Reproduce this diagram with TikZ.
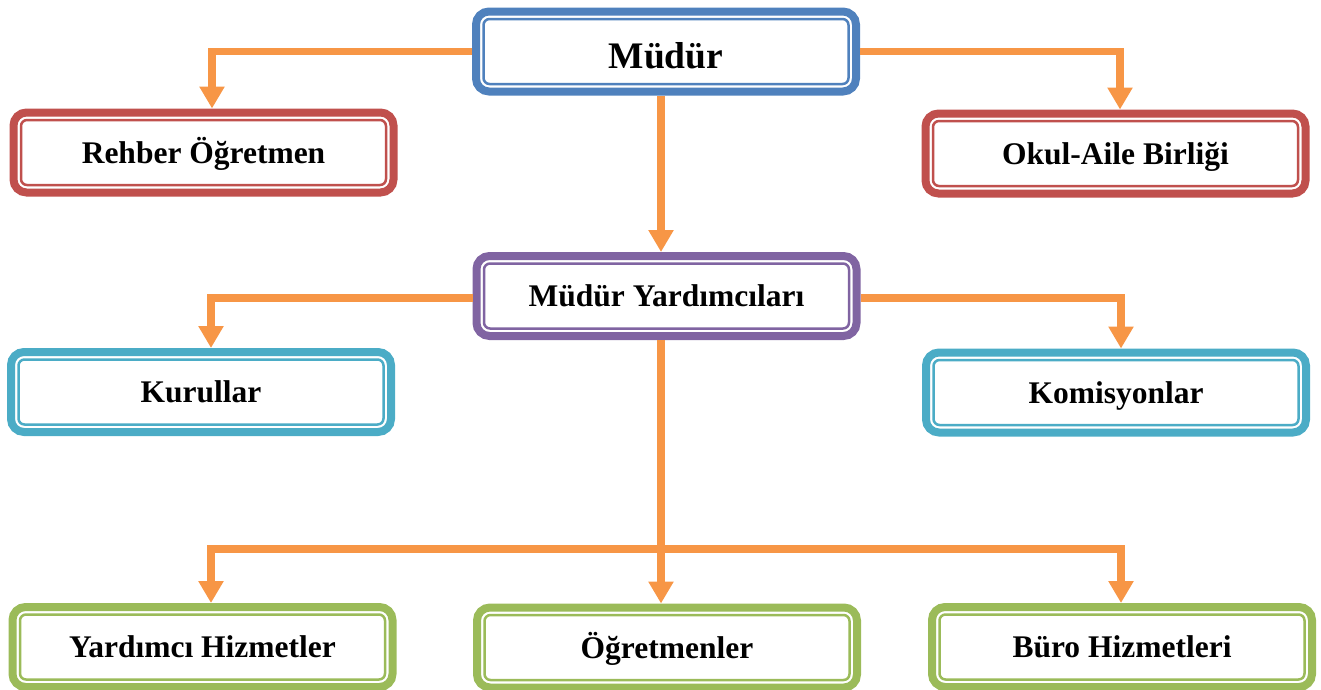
\documentclass[tikz,border=0pt]{standalone}
\usepackage{fontspec}
\setmainfont{Liberation Serif}
\usetikzlibrary{arrows.meta}
\definecolor{cblue}{HTML}{4F81BD}
\definecolor{cred}{HTML}{C0504D}
\definecolor{cpurple}{HTML}{8064A2}
\definecolor{caqua}{HTML}{4BACC6}
\definecolor{cgreen}{HTML}{9BBB59}
\definecolor{corange}{HTML}{F79646}
\tikzset{
  orgbox/.style={draw=#1, line width=8pt, rounded corners=13pt, fill=white,
    minimum width=380pt, minimum height=80pt, outer sep=4pt, inner sep=0pt,
    font=\fontsize{31.5}{36}\selectfont\bfseries, text=black,
    text height=21pt, text depth=0pt,
    path picture={\draw[#1, line width=2.5pt, rounded corners=6pt]
      ([shift={(7.5,7.5)}]path picture bounding box.north west) rectangle
      ([shift={(-7.5,-7.5)}]path picture bounding box.south east);}},
  conn/.style={draw=corange, line width=7.5pt, line join=miter,
    -{Triangle[width=24pt,length=22pt]}}
}
\begin{document}
\begin{tikzpicture}[x=1pt,y=-1pt]
\useasboundingbox (0,0) rectangle (1321,689);
\node[orgbox=cblue, font=\fontsize{37.5}{42}\selectfont\bfseries, text height=33pt] (mudur) at (666,51.5) {Müdür};
\node[orgbox=cred] (rehber) at (203.5,152.5) {Rehber Öğretmen};
\node[orgbox=cred] (okul) at (1115.5,153.5) {Okul-Aile Birliği};
\node[orgbox=cpurple] (my) at (666.5,296) {Müdür Yardımcıları};
\node[orgbox=caqua] (kurullar) at (201,392) {Kurullar};
\node[orgbox=caqua] (komisyon) at (1116,392.5) {Komisyonlar};
\node[orgbox=cgreen] (yardimci) at (202.5,647) {Yardımcı Hizmetler};
\node[orgbox=cgreen] (ogretmenler) at (667,647.5) {Öğretmenler};
\node[orgbox=cgreen] (buro) at (1122,647) {Büro Hizmetleri};

\draw[conn] (mudur.west) -| ([xshift=8.5]rehber.north);
\draw[conn] (mudur.east) -| ([xshift=4.5]okul.north);
\draw[conn] ([xshift=-5]mudur.south) -- ([xshift=-5]mudur.south |- my.north);
\draw[conn] ([yshift=-2]my.west) -| ([xshift=10]kurullar.north);
\draw[conn] ([yshift=-2]my.east) -| ([xshift=5]komisyon.north);
\draw[conn] ([xshift=-5.5]my.south) -- ([xshift=-5.5]my.south |- ogretmenler.north);
\coordinate (bus) at ([xshift=-5.5]my.south |- 0,549);
\draw[conn] (bus) -| ([xshift=8.5]yardimci.north);
\draw[conn] (bus) -| ([xshift=-1]buro.north);
\end{tikzpicture}
\end{document}
